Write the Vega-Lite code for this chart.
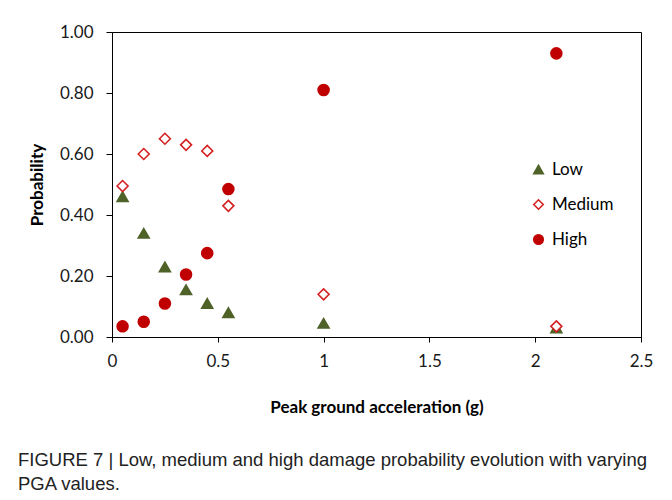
{
  "$schema": "https://vega.github.io/schema/vega-lite/v6.json",
  "autosize": "none",
  "width": 529,
  "height": 305,
  "padding": {"left": 112, "top": 32, "right": 31, "bottom": 163},
  "background": "white",
  "config": {
    "view": {"stroke": "#000000", "strokeWidth": 1},
    "font": "Lato"
  },
  "title": {
    "text": ["FIGURE 7 | Low, medium and high damage probability evolution with varying", "PGA values."],
    "orient": "bottom",
    "anchor": "start",
    "frame": "group",
    "dx": -94,
    "offset": 36,
    "font": "Liberation Sans",
    "fontSize": 18.5,
    "fontWeight": "normal",
    "color": "#222222",
    "lineHeight": 24
  },
  "data": {
    "values": [
      {"pga": 0.05, "level": "Low", "p": 0.46},
      {"pga": 0.15, "level": "Low", "p": 0.34},
      {"pga": 0.25, "level": "Low", "p": 0.23},
      {"pga": 0.35, "level": "Low", "p": 0.155},
      {"pga": 0.45, "level": "Low", "p": 0.11},
      {"pga": 0.55, "level": "Low", "p": 0.08},
      {"pga": 1.0, "level": "Low", "p": 0.045},
      {"pga": 2.1, "level": "Low", "p": 0.03},
      {"pga": 0.05, "level": "Medium", "p": 0.495},
      {"pga": 0.15, "level": "Medium", "p": 0.60},
      {"pga": 0.25, "level": "Medium", "p": 0.65},
      {"pga": 0.35, "level": "Medium", "p": 0.63},
      {"pga": 0.45, "level": "Medium", "p": 0.61},
      {"pga": 0.55, "level": "Medium", "p": 0.43},
      {"pga": 1.0, "level": "Medium", "p": 0.14},
      {"pga": 2.1, "level": "Medium", "p": 0.035},
      {"pga": 0.05, "level": "High", "p": 0.035},
      {"pga": 0.15, "level": "High", "p": 0.05},
      {"pga": 0.25, "level": "High", "p": 0.11},
      {"pga": 0.35, "level": "High", "p": 0.205},
      {"pga": 0.45, "level": "High", "p": 0.275},
      {"pga": 0.55, "level": "High", "p": 0.485},
      {"pga": 1.0, "level": "High", "p": 0.81},
      {"pga": 2.1, "level": "High", "p": 0.93}
    ]
  },
  "mark": {"type": "point", "filled": true, "strokeWidth": 1.6, "opacity": 1, "size": 120},
  "encoding": {
    "x": {
      "field": "pga", "type": "quantitative",
      "scale": {"domain": [0, 2.5], "nice": false, "zero": true},
      "axis": {
        "title": "Peak ground acceleration (g)",
        "values": [0, 0.5, 1, 1.5, 2, 2.5],
        "format": "~g",
        "grid": false,
        "labelFlush": false,
        "domainColor": "#000000",
        "tickColor": "#000000",
        "tickSize": 5,
        "labelPadding": 11,
        "labelFont": "Lato",
        "labelFontSize": 17,
        "labelColor": "#1a1a1a",
        "titleFont": "Lato",
        "titleFontSize": 17,
        "titleFontWeight": "bold",
        "titleColor": "#000000",
        "titlePadding": 30
      }
    },
    "y": {
      "field": "p", "type": "quantitative",
      "scale": {"domain": [0, 1], "nice": false},
      "axis": {
        "title": "Probability",
        "values": [0, 0.2, 0.4, 0.6, 0.8, 1.0],
        "format": ".2f",
        "grid": false,
        "labelFlush": false,
        "domainColor": "#000000",
        "tickColor": "#000000",
        "tickSize": 6,
        "labelPadding": 13,
        "labelFont": "Lato",
        "labelFontSize": 17,
        "labelColor": "#1a1a1a",
        "titleFont": "Lato",
        "titleFontSize": 17,
        "titleFontWeight": "bold",
        "titleColor": "#000000",
        "titlePadding": 13
      }
    },
    "shape": {
      "field": "level", "type": "nominal",
      "scale": {"domain": ["Low", "Medium", "High"], "range": ["triangle-up", "diamond", "circle"]},
      "legend": {
        "title": null,
        "orient": "none",
        "legendX": 418,
        "legendY": 129,
        "labelFont": "Lato",
        "labelFontSize": 17,
        "labelColor": "#000000",
        "rowPadding": 17,
        "symbolSize": 90,
        "symbolStrokeWidth": 1.6,
        "labelOffset": 5
      }
    },
    "fill": {
      "field": "level", "type": "nominal",
      "scale": {"domain": ["Low", "Medium", "High"], "range": ["#4f6228", "#ffffff", "#c00000"]},
      "legend": null
    },
    "stroke": {
      "field": "level", "type": "nominal",
      "scale": {"domain": ["Low", "Medium", "High"], "range": ["#4f6228", "#d42020", "#c00000"]},
      "legend": null
    }
  }
}
